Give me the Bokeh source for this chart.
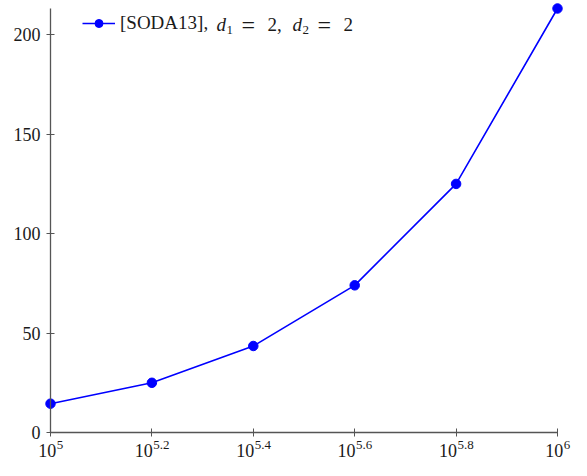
from bokeh.plotting import figure
from bokeh.models import FixedTicker, Label, Legend, LegendItem, Range1d
from bokeh.embed import file_html
from bokeh.resources import INLINE

# ---- data ----
x_exponents = [5.0, 5.2, 5.4, 5.6, 5.8, 6.0]
x_values = [10 ** e for e in x_exponents]
y_values = [14.5, 25, 43.5, 74, 125, 213.2]
x_tick_base = "10"
x_tick_sup = ["5", "5.2", "5.4", "5.6", "5.8", "6"]
y_ticks = [0, 50, 100, 150, 200]
legend_cite = "[SODA13],"
legend_params = [("d", "1", "2,"), ("d", "2", "2")]

FONT = "Liberation Serif"
AXIS_COLOR = "#555555"
TEXT_COLOR = "#1a1a1a"
BLUE = "#0000ff"

W, H = 571, 460
# frame covers the whole canvas; axes are placed at fixed data locations
X_AXIS_PX, X_END_PX = 50, 557      # pixel of 1e5 and 1e6
Y0_PX, YTOP_PX = 432, 8            # pixel of y=0 and of the top value
ppd = (X_END_PX - X_AXIS_PX) / (x_exponents[-1] - x_exponents[0])
x_lo = 10 ** (x_exponents[0] - X_AXIS_PX / ppd)
x_hi = 10 ** (x_exponents[-1] + (W - X_END_PX) / ppd)
ppu = (Y0_PX - YTOP_PX) / y_values[-1]
y_lo = -(H - Y0_PX) / ppu
y_hi = y_values[-1] + YTOP_PX / ppu

p = figure(
    width=W, height=H,
    x_axis_type="log",
    x_range=Range1d(x_lo, x_hi),
    y_range=Range1d(y_lo, y_hi),
    output_backend="svg", toolbar_location=None,
    min_border_left=0, min_border_right=0,
    min_border_top=0, min_border_bottom=0,
)
p.outline_line_color = None
p.grid.visible = False
p.background_fill_color = "white"

line_r = p.line(x_values, y_values, line_color=BLUE, line_width=1.6)
pts_r = p.scatter(x_values, y_values, size=9.5, fill_color=BLUE, line_color=BLUE)

# axes
for ax in (p.xaxis[0], p.yaxis[0]):
    ax.axis_line_color = AXIS_COLOR
    ax.axis_line_width = 1.3
    ax.major_tick_line_color = AXIS_COLOR
    ax.major_tick_line_width = 1
    ax.major_tick_in = 4
    ax.major_tick_out = 4
    ax.minor_tick_line_color = None

p.yaxis.ticker = FixedTicker(ticks=y_ticks)
p.yaxis.fixed_location = x_values[0]
p.yaxis.bounds = (0, y_values[-1])
p.yaxis.major_label_text_font = FONT
p.yaxis.major_label_text_font_size = "18px"
p.yaxis.major_label_text_color = TEXT_COLOR
p.yaxis.major_label_standoff = 6

p.xaxis.ticker = FixedTicker(ticks=x_values)
p.xaxis.fixed_location = 0
p.xaxis.bounds = (x_values[0], x_values[-1])
p.xaxis.major_label_overrides = {v: "" for v in x_values}
p.xaxis.major_label_standoff = 0

def label(x, y, text, size, dx, dy, align="left", style="normal"):
    p.add_layout(Label(x=x, y=y, text=text, text_font=FONT,
                       text_font_size=f"{size}px", text_font_style=style,
                       text_color=TEXT_COLOR, text_align=align,
                       text_baseline="middle", x_offset=dx, y_offset=-dy))

# x tick labels 10^k with superscripts
for xv, sup in zip(x_values, x_tick_sup):
    sup_w = 6.5 * sum(1 for c in sup if c != ".") + 3.2 * sup.count(".")
    off = (18 - sup_w) / 2
    label(xv, 0, x_tick_base, 18, off, 18, align="right")
    label(xv, 0, sup, 13, off + 0.5, 12)

legend = Legend(
    items=[LegendItem(label=legend_cite, renderers=[line_r, pts_r])],
    location=(82, H - 14 - 20),
    padding=0, margin=0, spacing=0,
    glyph_width=33, glyph_height=20, label_height=20, label_standoff=5,
    label_text_font=FONT, label_text_font_size="19px",
    label_text_color=TEXT_COLOR,
    border_line_color=None, background_fill_alpha=0,
)
p.add_layout(legend)

# rest of legend text: italic d with subscripts, math-spaced "="
LEG_Y = 24
x0 = 216
for var, sub, val in legend_params:
    label(x_lo, y_hi, var, 19, x0, LEG_Y, style="italic")
    label(x_lo, y_hi, sub, 13, x0 + 10, LEG_Y + 5)
    label(x_lo, y_hi, "=", 24, x0 + 25, LEG_Y)
    label(x_lo, y_hi, val, 19, x0 + 51, LEG_Y)
    x0 += 76

open("out.html", "w").write(file_html(p, INLINE))
